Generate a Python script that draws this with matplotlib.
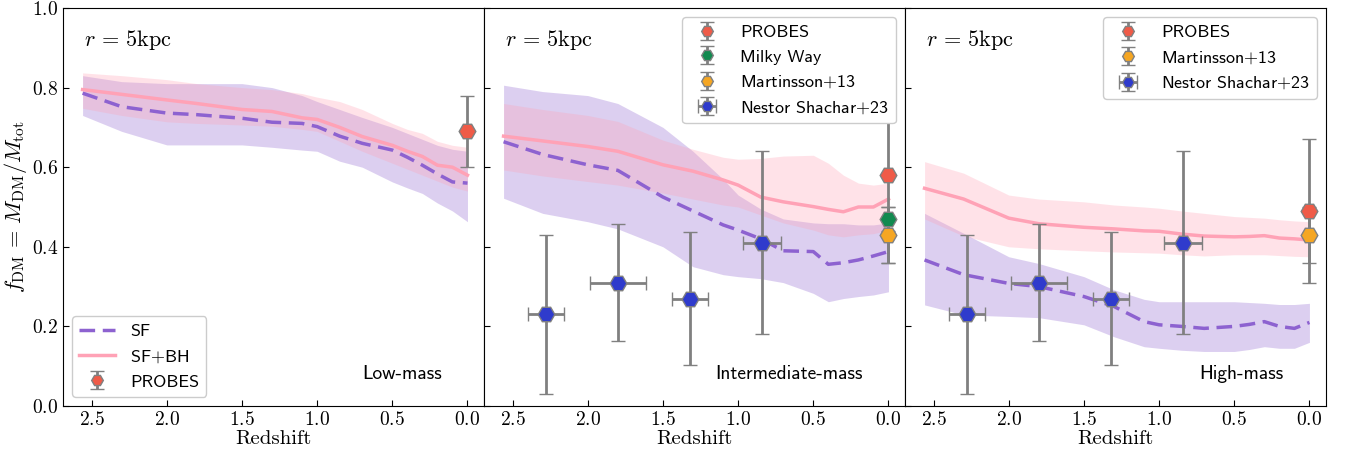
import numpy as np
import matplotlib.pyplot as plt

plt.rcParams['font.family'] = 'cmr10'
plt.rcParams['mathtext.fontset'] = 'cm'
plt.rcParams['axes.formatter.use_mathtext'] = True

# Redshift grid of the simulation curves
z = [2.56, 2.3, 2.0, 1.8, 1.5, 1.3, 1.1, 1.0, 0.85, 0.7, 0.5, 0.4, 0.3, 0.2, 0.1, 0.0]

# Low-mass bin
low_sf = [0.786, 0.752, 0.736, 0.732, 0.723, 0.713, 0.710, 0.702, 0.678, 0.660, 0.643, 0.625, 0.605, 0.583, 0.563, 0.560]
low_sf_lo = [0.730, 0.690, 0.656, 0.656, 0.656, 0.650, 0.643, 0.640, 0.615, 0.600, 0.563, 0.548, 0.534, 0.510, 0.490, 0.463]
low_sf_hi = [0.830, 0.815, 0.810, 0.810, 0.810, 0.800, 0.780, 0.765, 0.745, 0.725, 0.700, 0.685, 0.670, 0.655, 0.645, 0.640]
low_bh = [0.795, 0.783, 0.769, 0.760, 0.745, 0.740, 0.724, 0.720, 0.700, 0.677, 0.655, 0.640, 0.627, 0.605, 0.600, 0.580]
low_bh_lo = [0.748, 0.730, 0.714, 0.710, 0.706, 0.703, 0.695, 0.690, 0.665, 0.640, 0.610, 0.595, 0.580, 0.565, 0.550, 0.540]
low_bh_hi = [0.837, 0.830, 0.820, 0.810, 0.800, 0.795, 0.785, 0.776, 0.765, 0.745, 0.710, 0.695, 0.685, 0.665, 0.655, 0.650]

# Intermediate-mass bin
mid_sf = [0.664, 0.632, 0.606, 0.592, 0.525, 0.490, 0.455, 0.442, 0.420, 0.390, 0.388, 0.356, 0.360, 0.367, 0.377, 0.388]
mid_sf_lo = [0.522, 0.484, 0.463, 0.445, 0.400, 0.350, 0.330, 0.325, 0.320, 0.310, 0.283, 0.262, 0.270, 0.275, 0.279, 0.287]
mid_sf_hi = [0.806, 0.790, 0.780, 0.760, 0.700, 0.640, 0.570, 0.530, 0.495, 0.470, 0.460, 0.458, 0.458, 0.455, 0.455, 0.460]
mid_bh = [0.678, 0.666, 0.652, 0.640, 0.606, 0.590, 0.568, 0.555, 0.525, 0.513, 0.501, 0.494, 0.488, 0.500, 0.500, 0.520]
mid_bh_lo = [0.593, 0.578, 0.564, 0.555, 0.535, 0.520, 0.505, 0.500, 0.480, 0.460, 0.442, 0.430, 0.425, 0.430, 0.433, 0.442]
mid_bh_hi = [0.760, 0.745, 0.730, 0.715, 0.668, 0.645, 0.625, 0.620, 0.622, 0.628, 0.630, 0.610, 0.580, 0.560, 0.555, 0.560]

# High-mass bin
high_sf = [0.367, 0.330, 0.308, 0.300, 0.275, 0.250, 0.212, 0.204, 0.200, 0.195, 0.200, 0.205, 0.212, 0.200, 0.195, 0.210]
high_sf_lo = [0.254, 0.229, 0.225, 0.222, 0.204, 0.174, 0.149, 0.145, 0.140, 0.137, 0.137, 0.142, 0.149, 0.145, 0.145, 0.160]
high_sf_hi = [0.484, 0.434, 0.375, 0.358, 0.325, 0.292, 0.268, 0.262, 0.262, 0.262, 0.262, 0.260, 0.258, 0.255, 0.255, 0.258]
high_bh = [0.547, 0.520, 0.472, 0.458, 0.449, 0.445, 0.440, 0.439, 0.432, 0.427, 0.425, 0.426, 0.428, 0.422, 0.420, 0.417]
high_bh_lo = [0.470, 0.427, 0.400, 0.395, 0.390, 0.387, 0.385, 0.384, 0.380, 0.377, 0.380, 0.380, 0.380, 0.378, 0.376, 0.375]
high_bh_hi = [0.614, 0.585, 0.530, 0.520, 0.513, 0.505, 0.500, 0.497, 0.490, 0.484, 0.476, 0.474, 0.472, 0.468, 0.465, 0.463]

# Observations at z = 0 (value, error)
probes_low = (0.69, 0.09)
probes_mid = (0.58, 0.22)
probes_high = (0.49, 0.18)
milky_way = (0.47, 0.03)
martinsson = (0.43, 0.07)

# Nestor Shachar+23
ns_z = [2.28, 1.80, 1.32, 0.84]
ns_zerr = [0.12, 0.185, 0.12, 0.125]
ns_f = [0.23, 0.31, 0.27, 0.41]
ns_ferr = [0.20, 0.147, 0.167, 0.23]

c_sf = '#8d62d0'
c_bh = '#ffa2b6'
c_probes = '#ef5b48'
c_mw = '#128a50'
c_mart = '#f5a623'
c_ns = '#2f3bcc'

legend_font = {'family': 'cmss10', 'size': 13}
eb_kw = dict(fmt='H', markersize=12, markeredgecolor='gray', markeredgewidth=1,
             ecolor='gray', elinewidth=2, capsize=5, capthick=2, zorder=5)


def draw_models(ax, sf, sf_lo, sf_hi, bh, bh_lo, bh_hi):
    ax.fill_between(z, sf_lo, sf_hi, color=c_sf, alpha=0.3, lw=0)
    ax.fill_between(z, bh_lo, bh_hi, color=c_bh, alpha=0.3, lw=0)
    ax.plot(z, sf, color=c_sf, lw=2.5, dashes=(4.5, 2.2), label='SF')
    ax.plot(z, bh, color=c_bh, lw=2.5, label=r'SF$+$BH')


fig, axes = plt.subplots(1, 3, figsize=(13.47, 4.57), dpi=100, sharey=True)
ax1, ax2, ax3 = axes

draw_models(ax1, low_sf, low_sf_lo, low_sf_hi, low_bh, low_bh_lo, low_bh_hi)
draw_models(ax2, mid_sf, mid_sf_lo, mid_sf_hi, mid_bh, mid_bh_lo, mid_bh_hi)
draw_models(ax3, high_sf, high_sf_lo, high_sf_hi, high_bh, high_bh_lo, high_bh_hi)

# Low-mass observations
ax1.errorbar([0.0], [probes_low[0]], yerr=[probes_low[1]], color=c_probes, label='PROBES', **eb_kw)

# Intermediate-mass observations
h_p = ax2.errorbar([0.0], [probes_mid[0]], yerr=[probes_mid[1]], color=c_probes, label='PROBES', **eb_kw)
h_mw = ax2.errorbar([0.0], [milky_way[0]], yerr=[milky_way[1]], color=c_mw, label='Milky Way', **eb_kw)
h_m = ax2.errorbar([0.0], [martinsson[0]], yerr=[martinsson[1]], color=c_mart, label=r'Martinsson$+$13', **eb_kw)
h_ns = ax2.errorbar(ns_z, ns_f, xerr=ns_zerr, yerr=ns_ferr, color=c_ns, label=r'Nestor Shachar$+$23', **eb_kw)

# High-mass observations
h3_p = ax3.errorbar([0.0], [probes_high[0]], yerr=[probes_high[1]], color=c_probes, label='PROBES', **eb_kw)
h3_m = ax3.errorbar([0.0], [martinsson[0]], yerr=[martinsson[1]], color=c_mart, label=r'Martinsson$+$13', **eb_kw)
h3_ns = ax3.errorbar(ns_z, ns_f, xerr=ns_zerr, yerr=ns_ferr, color=c_ns, label=r'Nestor Shachar$+$23', **eb_kw)

leg_kw = dict(prop=legend_font, markerscale=0.7, framealpha=1)
ax1.legend(loc='lower left', **leg_kw).set_zorder(10)
ax2.legend(handles=[h_p, h_mw, h_m, h_ns], loc='upper right', **leg_kw).set_zorder(10)
ax3.legend(handles=[h3_p, h3_m, h3_ns], loc='upper right', **leg_kw).set_zorder(10)

for ax, name in zip(axes, ['Low-mass', 'Intermediate-mass', 'High-mass']):
    ax.set_xlim(2.69, -0.11)
    ax.set_ylim(0.0, 1.0)
    ax.set_xticks([2.5, 2.0, 1.5, 1.0, 0.5, 0.0])
    ax.set_yticks([0.0, 0.2, 0.4, 0.6, 0.8, 1.0])
    ax.tick_params(direction='in', labelsize=14, length=4)
    ax.set_xlabel('Redshift', fontsize=15, labelpad=1)
    ax.text(0.05, 0.92, r'$r\, =\, 5{\rm kpc}$', transform=ax.transAxes, fontsize=16, va='center')
    ax.text(0.9, 0.08, name, transform=ax.transAxes, ha='right', va='center',
            fontfamily='cmss10', fontsize=14)

ax1.set_ylabel(r'$f_{\rm DM}\, =\, M_{\rm DM}/M_{\rm tot}$', fontsize=16, labelpad=2)

fig.subplots_adjust(left=0.0468, right=0.9844, top=0.9825, bottom=0.1116, wspace=0)
fig.savefig('out.png', dpi=100)
